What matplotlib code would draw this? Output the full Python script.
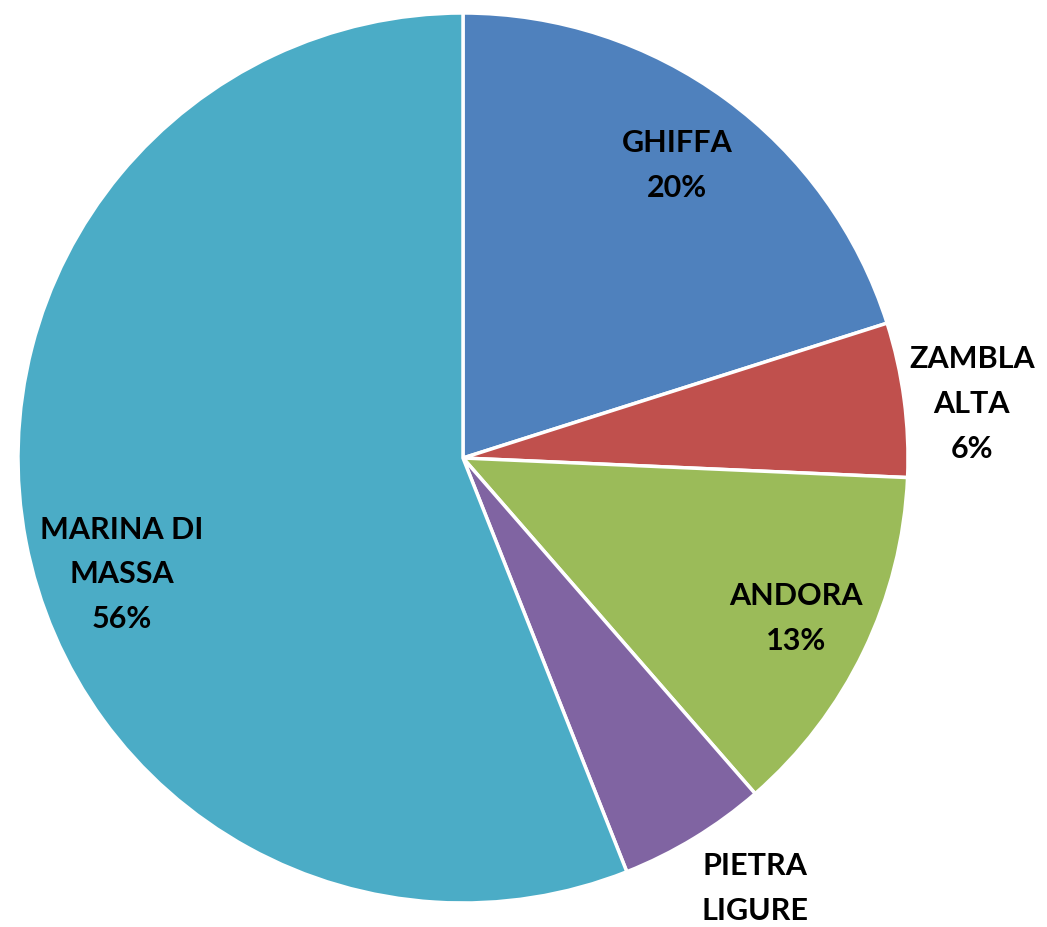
import numpy as np
import matplotlib.pyplot as plt

comuni = ["GHIFFA", "ZAMBLA\nALTA", "ANDORA", "PIETRA\nLIGURE", "MARINA DI\nMASSA"]
quote = [20.1, 5.6, 12.9, 5.4, 56.0]
# la percentuale di PIETRA LIGURE non si vede nell'originale (tagliata)
etichette_pct = ["20%", "6%", "13%", None, "56%"]
colori = ["#4F81BD", "#C0504D", "#9BBB59", "#8064A2", "#4BACC6"]

# distanza dal centro e spostamento angolare delle etichette
dist_etich = [0.815, 1.15, 0.83, 1.168, 0.81]
sposta_ang = [0, -1.5, 0, 2.8, 8]

plt.rcParams['font.family'] = ['Lato', 'DejaVu Sans']

fig = plt.figure(figsize=(10.47, 9.27), dpi=100)
ax = fig.add_axes([18 / 1047, 24 / 927, 890 / 1047, 890 / 927])

wedges, _ = ax.pie(quote, colors=colori, startangle=90, counterclock=False,
                   wedgeprops=dict(edgecolor="white", linewidth=2.5))

for w, nome, pct, d, s in zip(wedges, comuni, etichette_pct, dist_etich, sposta_ang):
    ang = np.deg2rad((w.theta1 + w.theta2) / 2 + s)
    x, y = d * np.cos(ang), d * np.sin(ang)
    testo = nome if pct is None else nome + "\n" + pct
    ax.text(x, y, testo, ha="center", va="center",
            fontsize=22, fontweight="bold", linespacing=1.72, color="black")

ax.set_xlim(-1, 1)
ax.set_ylim(-1, 1)
ax.set_aspect("equal")
ax.axis("off")

fig.savefig("out.png", dpi=100)
